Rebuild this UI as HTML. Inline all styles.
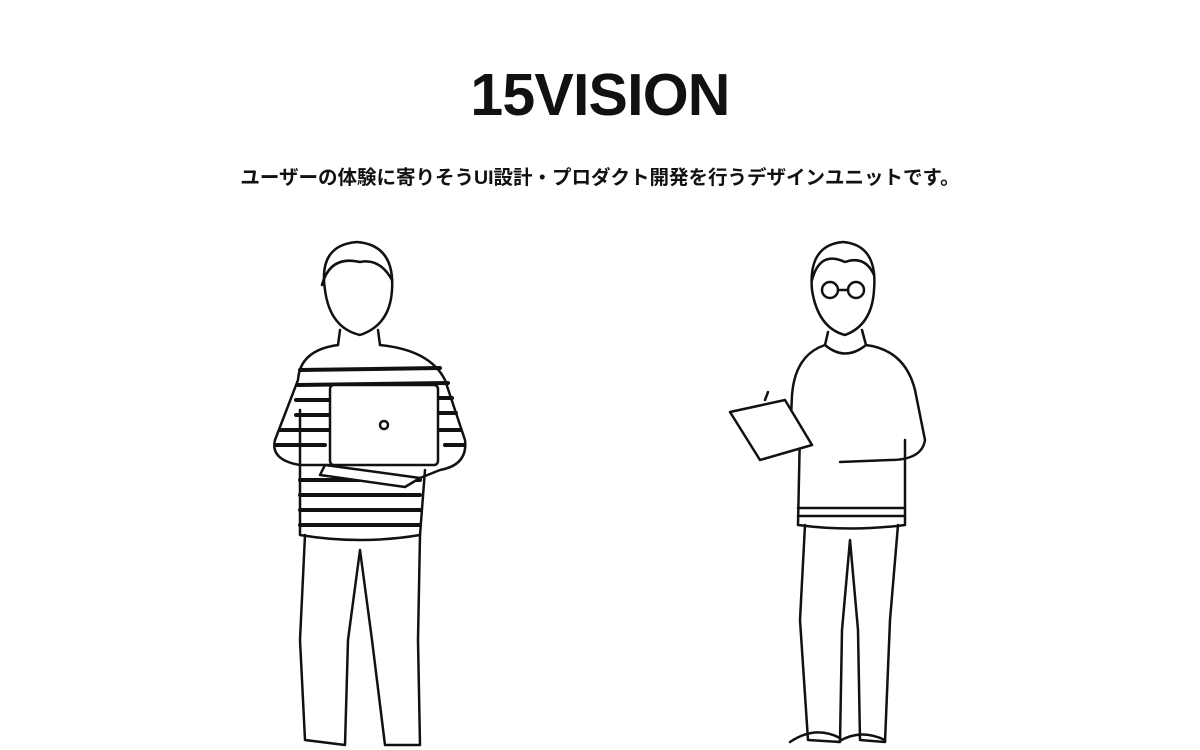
<!DOCTYPE html>
<html><head><meta charset="utf-8"><style>
html,body{margin:0;padding:0;background:#fff;width:1200px;height:750px;overflow:hidden}
.t{position:absolute;top:61px;left:0;width:1200px;text-align:center;font:bold 59px "Liberation Sans",sans-serif;letter-spacing:-0.8px;color:#111}
.s{position:absolute;top:161px;left:0;width:1200px;text-align:center;font:bold 19.5px "Liberation Sans","Noto Sans CJK JP",sans-serif;color:#111}
svg{position:absolute;left:0;top:0}
</style></head><body>
<div class="t">15VISION</div>
<div class="s">ユーザーの体験に寄りそうUI設計・プロダクト開発を行うデザインユニットです。</div>
<svg width="1200" height="750" fill="none" stroke="#111" stroke-width="2.5" stroke-linecap="round" stroke-linejoin="round">
<path d="M325 290 Q318 245 357 242 Q395 245 392 290 Q390 325 360 335 Q330 328 325 290Z"/>
<path d="M322 285 Q330 255 360 262 Q380 258 392 280"/>
<path d="M340 330 L338 345 M378 330 L380 345"/>
<path d="M338 345 Q300 350 298 380 L275 440 Q270 460 300 465 L330 465 M380 345 Q430 350 445 380 L465 440 Q468 465 440 470 L420 478"/>
<path d="M300 410 L300 535 Q360 545 420 535 L425 470"/>
<g stroke-width="4">
<path d="M300 370 L440 368 M298 385 L448 383 M296 400 L330 400 M438 398 L452 398 M296 415 L330 415 M438 413 L456 413 M280 430 L330 430 M440 430 L460 430 M276 445 L325 445 M445 445 L464 445 M300 480 L420 480 M300 495 L420 495 M300 510 L420 510 M300 525 L420 525"/>
</g>
<rect x="330" y="385" width="108" height="80" rx="4" fill="#fff"/>
<path d="M325 465 L420 478 L405 487 L320 475Z" fill="#fff"/>
<circle cx="384" cy="425" r="4"/>
<path d="M305 535 L300 640 L305 740 L345 745 L348 640 L360 550 L372 640 L385 745 L420 745 L418 640 L420 535"/>
<path d="M812 290 Q808 245 843 242 Q878 245 874 290 Q872 325 845 335 Q818 328 812 290Z"/>
<path d="M812 280 Q820 250 845 262 Q865 255 874 275"/>
<circle cx="830" cy="290" r="8"/><circle cx="856" cy="290" r="8"/><path d="M838 290 L848 290"/>
<path d="M828 332 L825 345 M862 330 L866 345"/>
<path d="M825 345 Q795 355 792 395 L790 440 M866 345 Q905 350 915 390 L925 440 Q922 460 890 460 L840 462"/>
<path d="M825 345 Q845 362 866 345"/>
<path d="M800 430 L798 525 Q850 532 905 525 L905 440"/>
<path d="M798 508 L905 508 M798 516 L905 516"/>
<path d="M730 412 L785 400 L812 445 L760 460Z" fill="#fff"/>
<path d="M765 400 L768 392"/>
<path d="M805 525 L800 620 L808 740 L840 742 L842 630 L850 540 L858 630 L860 740 L885 742 L890 620 L898 525"/>
<path d="M790 742 Q815 725 840 738 M838 742 Q860 728 885 740"/>
</svg>
</body></html>
